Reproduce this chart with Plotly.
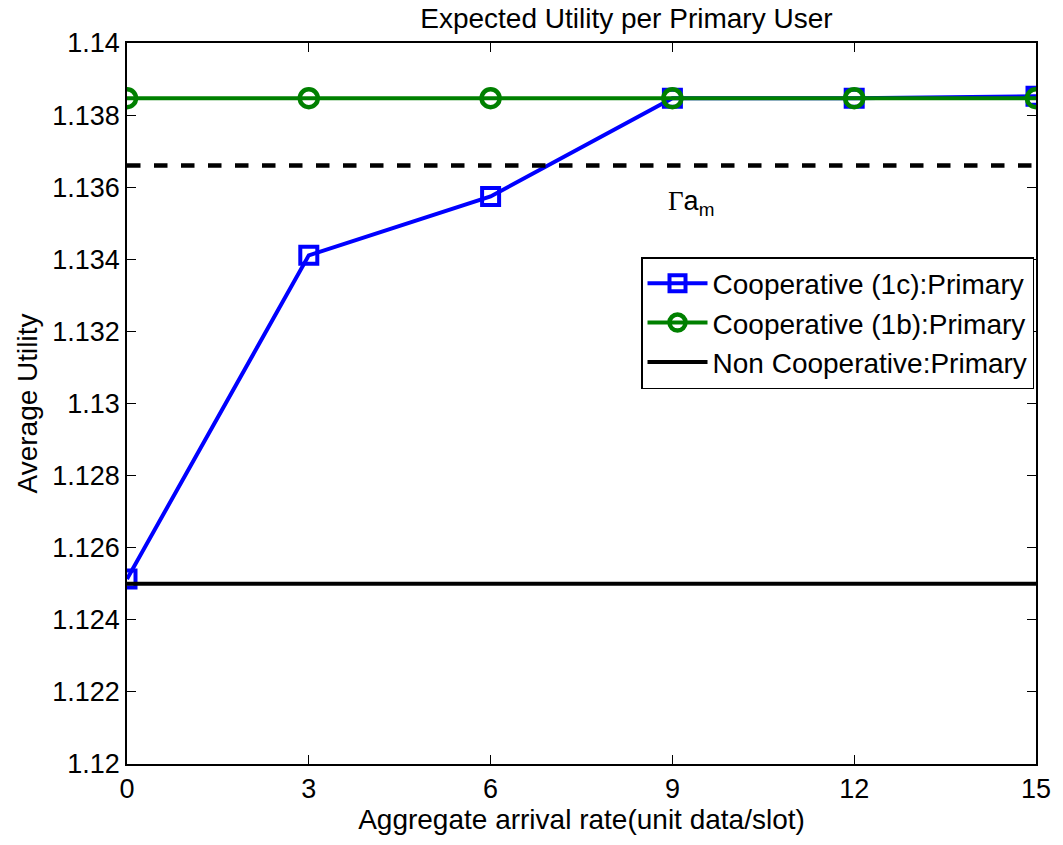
import plotly.graph_objects as go

# Data
x_vals = [0, 3, 6, 9, 12, 15]
coop_1c = [1.12513, 1.13411, 1.135745, 1.13847, 1.13847, 1.13852]
coop_1b = [1.13847, 1.13847, 1.13847, 1.13847, 1.13847, 1.13847]
noncoop_x = [0, 15]
noncoop = [1.125, 1.125]
gamma_am_x = [0, 15]
gamma_am = [1.1366, 1.1366]

y_ticks = [1.12, 1.122, 1.124, 1.126, 1.128, 1.13, 1.132, 1.134, 1.136, 1.138, 1.14]
y_ticktext = ["1.12", "1.122", "1.124", "1.126", "1.128", "1.13", "1.132", "1.134", "1.136", "1.138", "1.14"]
x_ticks = [0, 3, 6, 9, 12, 15]

FONT = "Liberation Sans, Arial, sans-serif"

fig = go.Figure()
fig.add_trace(go.Scatter(
    x=x_vals, y=coop_1c, mode="lines+markers", name="Cooperative (1c):Primary",
    line=dict(color="#0000ff", width=4),
    marker=dict(symbol="square-open", size=17, color="#0000ff", line=dict(width=4, color="#0000ff")),
))
fig.add_trace(go.Scatter(
    x=x_vals, y=coop_1b, mode="lines+markers", name="Cooperative (1b):Primary",
    line=dict(color="#008000", width=4),
    marker=dict(symbol="circle-open", size=18, color="#008000", line=dict(width=4.5, color="#008000")),
))
fig.add_trace(go.Scatter(
    x=noncoop_x, y=noncoop, mode="lines", name="Non Cooperative:Primary",
    line=dict(color="#000000", width=4),
))
fig.add_trace(go.Scatter(
    x=gamma_am_x, y=gamma_am, mode="lines", name="Γa_m", showlegend=False,
    line=dict(color="#000000", width=4.5, dash="dash"),
))

fig.add_annotation(
    x=9.3, y=1.13608, xref="x", yref="y",
    text="<span style='font-family:Liberation Serif, Times New Roman, serif'>Γ</span>a<sub>m</sub>",
    showarrow=False,
    font=dict(family=FONT, size=27, color="black"), xanchor="center", yanchor="top",
)

axis_common = dict(
    showline=True, linecolor="black", linewidth=1.5, mirror="ticks",
    ticks="inside", ticklen=9, tickcolor="black", tickwidth=1,
    showgrid=False, zeroline=False,
    tickfont=dict(family=FONT, size=27, color="black"),
)

fig.update_xaxes(
    range=[0, 15], tickvals=x_ticks,
    title=dict(text="Aggregate arrival rate(unit data/slot)", font=dict(family=FONT, size=28, color="black"), standoff=5),
    **axis_common,
)
fig.update_yaxes(
    range=[1.12, 1.14], tickvals=y_ticks, ticktext=y_ticktext,
    title=dict(text="Average Utility", font=dict(family=FONT, size=28, color="black"), standoff=6),
    **axis_common,
)

fig.update_layout(
    width=1063, height=845,
    margin=dict(l=127, r=22, t=43, b=81),
    paper_bgcolor="white", plot_bgcolor="white",
    title=dict(text="Expected Utility per Primary User", font=dict(family=FONT, size=28, color="black"),
               x=(127 + 1041) / 2 / 1063, xanchor="center", xref="paper",
               y=1 - 18 / 845, yanchor="middle", yref="container"),
    legend=dict(
        x=1 - 2 / 914, y=1 - (257 - 43) / 721, xanchor="right", yanchor="top",
        bgcolor="white", bordercolor="black", borderwidth=1.5,
        font=dict(family=FONT, size=28, color="black"),
        tracegroupgap=0, itemwidth=60,
    ),
    showlegend=True,
)

fig.write_html("out.html")
